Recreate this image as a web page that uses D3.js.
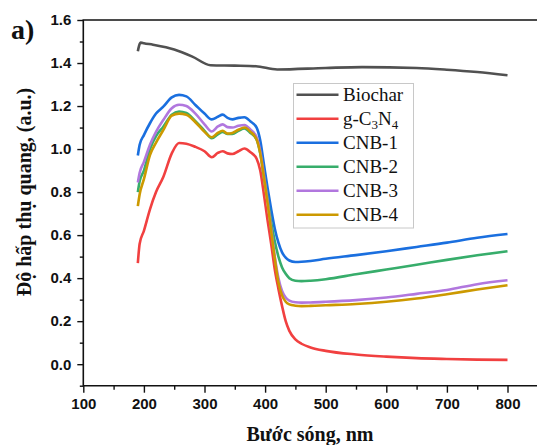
<!DOCTYPE html>
<head>
	<meta charset="utf-8">
	<script src="https://d3js.org/d3.v7.min.js"></script>
	<style type="text/css">
		body { margin: 0; background: #fff; }
		.tick text { font: bold 15px "Liberation Sans", Arial, sans-serif; fill: #111; }
		.title { font-family: "Liberation Serif", "Times New Roman", serif; font-weight: bold; fill: #111; }
		.leg text { font: 19px "Liberation Serif", "Times New Roman", serif; fill: #111; }
	</style>
</head>
<body>
	<script type="text/javascript">
		// data
		let names = ["Biochar", "g-C3N4", "CNB-1", "CNB-2", "CNB-3", "CNB-4"],
			colors = ["#515151", "#F14040", "#1A6FDF", "#37AD6B", "#B177DE", "#CC9900"],
			xTicks = [100, 200, 300, 400, 500, 600, 700, 800],
			yTicks = [0.0, 0.2, 0.4, 0.6, 0.8, 1.0, 1.2, 1.4, 1.6];

		let wlBiochar = [190, 192, 195, 200, 215, 250, 280, 310, 350, 385, 420, 500, 560, 650, 700, 750, 800],
			absBiochar = [1.455, 1.48, 1.495, 1.492, 1.485, 1.463, 1.43, 1.39, 1.388, 1.385, 1.37, 1.377, 1.381, 1.377, 1.369, 1.358, 1.343];

		// shared wavelength grid for the other samples
		let wl = [190, 193, 200, 210, 220, 232, 246, 258, 270, 285, 300, 312, 322, 330, 338, 346, 356, 366, 376, 386,
			392, 398, 404, 410, 416, 422, 428, 434, 440, 450, 460, 475, 500, 550, 600, 650, 700, 750, 800];
		let absGCN = [0.47, 0.56, 0.62, 0.72, 0.80, 0.87, 0.98, 1.028, 1.025, 1.01, 0.99, 0.962, 0.982, 0.99, 0.98, 0.977, 0.99, 1.003, 0.985, 0.955,
			0.9, 0.79, 0.67, 0.56, 0.44, 0.35, 0.27, 0.2, 0.155, 0.115, 0.095, 0.078, 0.062, 0.045, 0.035, 0.028, 0.024, 0.021, 0.02];
		let absCNB1 = [0.97, 1.02, 1.065, 1.12, 1.165, 1.197, 1.24, 1.252, 1.245, 1.205, 1.165, 1.138, 1.15, 1.16, 1.145, 1.138, 1.145, 1.148, 1.128, 1.10,
			1.04, 0.93, 0.82, 0.72, 0.63, 0.565, 0.52, 0.495, 0.482, 0.475, 0.476, 0.48, 0.49, 0.507, 0.525, 0.545, 0.565, 0.588, 0.605];
		let absCNB2 = [0.80, 0.85, 0.9, 1.0, 1.06, 1.104, 1.16, 1.175, 1.168, 1.13, 1.085, 1.05, 1.068, 1.08, 1.07, 1.07, 1.085, 1.096, 1.075, 1.045,
			0.98, 0.87, 0.77, 0.66, 0.57, 0.5, 0.45, 0.42, 0.4, 0.388, 0.386, 0.388, 0.395, 0.418, 0.44, 0.462, 0.485, 0.506, 0.525];
		let absCNB3 = [0.845, 0.89, 0.94, 1.02, 1.08, 1.135, 1.19, 1.206, 1.2, 1.165, 1.115, 1.082, 1.105, 1.115, 1.102, 1.1, 1.108, 1.112, 1.09, 1.055,
			0.99, 0.88, 0.76, 0.63, 0.5, 0.4, 0.34, 0.31, 0.296, 0.288, 0.286, 0.287, 0.29, 0.298, 0.31, 0.327, 0.345, 0.372, 0.39];
		let absCNB4 = [0.735, 0.79, 0.86, 0.972, 1.03, 1.088, 1.155, 1.165, 1.16, 1.125, 1.08, 1.055, 1.075, 1.085, 1.072, 1.075, 1.09, 1.1, 1.08, 1.045,
			0.98, 0.87, 0.75, 0.62, 0.49, 0.38, 0.32, 0.29, 0.278, 0.272, 0.27, 0.271, 0.274, 0.28, 0.29, 0.305, 0.325, 0.347, 0.367];
	</script>
	<script type="text/javascript">
		const W = 537, H = 445;
		const padL = 83.3, padR = 537.8, padT = 20, padB = 385.7;

		let svg = d3.select("body").append("svg")
			.attr("width", W)
			.attr("height", H);

		let x = d3.scaleLinear().domain([100, 850]).range([padL, padR]);
		let y = d3.scaleLinear().domain([-0.1, 1.6]).range([padB, padT]);

		let series = [
			wlBiochar.map((d, i) => [d, absBiochar[i]]),
			wl.map((d, i) => [d, absGCN[i]]),
			wl.map((d, i) => [d, absCNB1[i]]),
			wl.map((d, i) => [d, absCNB2[i]]),
			wl.map((d, i) => [d, absCNB3[i]]),
			wl.map((d, i) => [d, absCNB4[i]])
		];

		let line = d3.line()
			.x(d => x(d[0]))
			.y(d => y(d[1]))
			.curve(d3.curveMonotoneX);

		// curves (CNB-4 drawn last, on top)
		svg.append("g").selectAll("path").data(series).enter()
			.append("path")
			.attr("d", line)
			.attr("fill", "none")
			.attr("stroke", (d, i) => colors[i])
			.attr("stroke-width", 2.6)
			.attr("stroke-linejoin", "round");

		// minor ticks
		let xMinor = d3.range(150, 850, 100);
		let yMinor = d3.range(-0.1, 1.6, 0.2);

		svg.append("g")
			.attr("transform", "translate(0," + padB + ")")
			.call(d3.axisBottom(x).tickValues(xTicks).tickFormat(d3.format("d")).tickSize(7).tickPadding(6));
		svg.append("g")
			.attr("transform", "translate(0," + padB + ")")
			.call(d3.axisBottom(x).tickValues(xMinor).tickFormat("").tickSize(4));

		svg.append("g")
			.attr("transform", "translate(" + padL + ",0)")
			.call(d3.axisLeft(y).tickValues(yTicks).tickFormat(d3.format(".1f")).tickSize(6).tickPadding(6));
		svg.append("g")
			.attr("transform", "translate(" + padL + ",0)")
			.call(d3.axisLeft(y).tickValues(yMinor).tickFormat("").tickSize(3.5));

		svg.selectAll(".domain").remove();
		svg.selectAll(".tick line").attr("stroke", "#111").attr("stroke-width", 1.4);

		// frame lines
		svg.append("path")
			.attr("d", "M" + W + "," + padT + "H" + padL + "V" + padB + "H" + W)
			.attr("fill", "none")
			.attr("stroke", "#111")
			.attr("stroke-width", 1.6);

		// titles
		svg.append("text").attr("class", "title")
			.attr("x", 310).attr("y", 441)
			.attr("text-anchor", "middle")
			.style("font-size", "20px")
			.text("Bước sóng, nm");

		svg.append("text").attr("class", "title")
			.attr("transform", "translate(31,192) rotate(-90)")
			.attr("text-anchor", "middle")
			.style("font-size", "20px")
			.text("Độ hấp thụ quang, (a.u.)");

		svg.append("text").attr("class", "title")
			.attr("x", 11).attr("y", 39)
			.style("font-size", "28px")
			.text("a)");

		// legend
		let leg = svg.append("g").attr("class", "leg");
		leg.append("rect")
			.attr("x", 293.5).attr("y", 83.5)
			.attr("width", 120).attr("height", 144.5)
			.attr("fill", "#fff")
			.attr("stroke", "#c8c8c8")
			.attr("stroke-width", 1);

		let rows = leg.selectAll("g.row").data(names).enter()
			.append("g").attr("class", "row")
			.attr("transform", (d, i) => "translate(0," + (94.7 + i * 24) + ")");
		rows.append("line")
			.attr("x1", 296.5).attr("x2", 338.5)
			.attr("stroke", (d, i) => colors[i])
			.attr("stroke-width", 2.6);
		rows.append("text")
			.attr("x", 343)
			.attr("y", 6.5)
			.each(function(d) {
				let t = d3.select(this);
				if (d === "g-C3N4") {
					t.append("tspan").text("g-C");
					t.append("tspan").attr("dy", 4).style("font-size", "13px").text("3");
					t.append("tspan").attr("dy", -4).text("N");
					t.append("tspan").attr("dy", 4).style("font-size", "13px").text("4");
				} else {
					t.text(d);
				}
			});
	</script>
</body>
</html>
